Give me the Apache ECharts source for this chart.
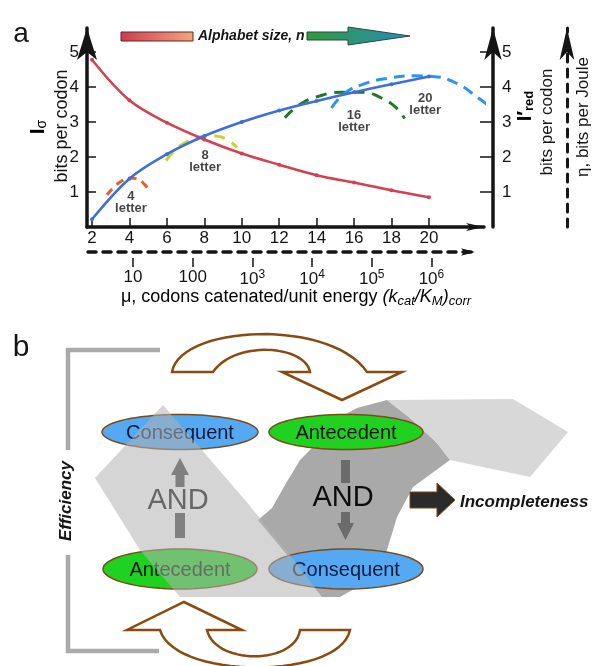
<!DOCTYPE html>
<html>
<head>
<meta charset="utf-8">
<script src="https://cdn.jsdelivr.net/npm/echarts@6/dist/echarts.min.js"></script>
<style>
  html, body { margin: 0; padding: 0; background: #fff; }
  #chart { width: 595px; height: 666px; }
</style>
</head>
<body>
<div id="chart"></div>
<script>
// ---- data ----
const nLetters = [2, 4, 6, 8, 10, 12, 14, 16, 18, 20];
const iSigmaBits = [4.78, 3.62, 2.98, 2.5, 2.1, 1.78, 1.48, 1.27, 1.05, 0.85];   // red, falling
const iRedBits = [0.22, 1.38, 2.08, 2.6, 3.0, 3.33, 3.6, 3.85, 4.08, 4.3];       // blue, rising

// dashed efficiency arcs for each alphabet size [n, bits]
const arc4 = [[2.8, 0.92], [3.2, 1.15], [3.6, 1.32], [4.0, 1.4], [4.4, 1.38], [4.8, 1.22], [5.1, 1.0]];
const arc8 = [[5.95, 1.9], [6.5, 2.22], [7.1, 2.45], [7.8, 2.58], [8.6, 2.6], [9.2, 2.5], [9.75, 2.27]];
const arc16 = [[12.3, 3.12], [13.1, 3.5], [14.2, 3.75], [15.3, 3.85], [16.5, 3.85], [17.4, 3.7], [18.2, 3.43], [18.7, 3.1]];
const arc20 = [[14.8, 3.4], [15.5, 3.82], [16.5, 4.08], [17.8, 4.25], [19.2, 4.32], [20.2, 4.3], [21.5, 4.1], [22.6, 3.7], [23.4, 3.38]];

const letterNames = ['4\nletter', '8\nletter', '16\nletter', '20\nletter'];
const letterSpots = [[4.08, 0.69], [8.04, 1.86], [16.0, 3.03], [19.8, 3.5]];

const xTicks = [2, 4, 6, 8, 10, 12, 14, 16, 18, 20];
const yTicks = [1, 2, 3, 4, 5];
const muExponents = [1, 2, 3, 4, 5, 6];

const FONT = 'Liberation Sans, Arial, sans-serif';
const INK = '#151515';
const UP = Math.PI / 2;

// small helpers for the diagram in panel b
function bez(p0, p1, p2, p3, n) {
    let pts = [];
    for (let i = 0; i <= n; i++) {
        let t = i / n, u = 1 - t;
        pts.push([
            u * u * u * p0[0] + 3 * u * u * t * p1[0] + 3 * u * t * t * p2[0] + t * t * t * p3[0],
            u * u * u * p0[1] + 3 * u * u * t * p1[1] + 3 * u * t * t * p2[1] + t * t * t * p3[1]
        ]);
    }
    return pts;
}
function ellipsePts(cx, cy, rx, ry) {
    let pts = [];
    for (let i = 0; i < 72; i++) {
        let a = i / 72 * Math.PI * 2;
        pts.push([cx + rx * Math.cos(a), cy + ry * Math.sin(a)]);
    }
    return pts;
}
function txt(x, y, text, font, extra, rotation) {
    return {
        type: 'text', x: x, y: y, z: 20, rotation: rotation || 0,
        style: Object.assign({ text: text, font: font, fill: INK, align: 'center', verticalAlign: 'middle' }, extra || {})
    };
}
function oval(cx, cy, rx, ry, fill, label, labelColor, z) {
    return [
        { type: 'polygon', z: z, shape: { points: ellipsePts(cx, cy, rx, ry) },
          style: { fill: fill, stroke: '#7b4a17', lineWidth: 1.5 } },
        { type: 'text', x: cx, y: cy + 1, z: z,
          style: { text: label, font: '20px ' + FONT, fill: labelColor, align: 'center', verticalAlign: 'middle' } }
    ];
}

const topArrow = [].concat(
    bez([172, 372], [180, 325], [330, 318], [367, 372], 30),
    [[402, 372], [342, 400], [282, 372], [310, 372]],
    bez([310, 372], [305, 345], [235, 340], [213, 372], 30)
);
const bottomArrow = [].concat(
    bez([350, 630], [340, 680], [175, 680], [160, 630], 30),
    [[127, 630], [184, 602], [242, 630], [207, 630]],
    bez([207, 630], [215, 665], [295, 665], [300, 630], 30)
);

const subRich = {
    t: { fontSize: 18, fontFamily: FONT, color: INK },
    it: { fontSize: 18, fontFamily: FONT, fontStyle: 'italic', color: INK },
    sub: { fontSize: 13, fontFamily: FONT, fontStyle: 'italic', color: INK, padding: [9, 0, 0, 0] }
};

let graphics = [
    // panel letters
    txt(21, 34, 'a', '28px ' + FONT),
    txt(21, 348, 'b', '30px ' + FONT),

    // alphabet size arrow
    { type: 'rect', z: 20, shape: { x: 121, y: 32, width: 72, height: 9 },
      style: { fill: { type: 'linear', x: 0, y: 0, x2: 1, y2: 0, colorStops: [{ offset: 0, color: '#d03a4f' }, { offset: 1, color: '#f3a67e' }] },
               stroke: '#5a2a2a', lineWidth: 1 } },
    txt(198, 36, 'Alphabet size, n', 'italic bold 14px ' + FONT, { align: 'left' }),
    { type: 'polygon', z: 20, shape: { points: [[307, 32], [348, 32], [348, 27], [410, 36], [348, 45], [348, 40], [307, 40]] },
      style: { fill: { type: 'linear', x: 0, y: 0, x2: 1, y2: 0, colorStops: [{ offset: 0, color: '#2f9b3a' }, { offset: 1, color: '#2a8ac0' }] },
               stroke: '#2b4a3a', lineWidth: 1 } },

    // axis titles
    { type: 'text', x: 38, y: 127, rotation: UP, z: 20,
      style: { text: '{i|I}{s|σ}', align: 'center', verticalAlign: 'middle',
               rich: { i: { fontSize: 21, fontWeight: 'bold', fontFamily: FONT, color: INK },
                       s: { fontSize: 14, fontFamily: FONT, color: INK, padding: [9, 0, 0, 0] } } } },
    txt(62, 126, 'bits per codon', '18px ' + FONT, {}, UP),
    { type: 'text', x: 525, y: 106, rotation: UP, z: 20,
      style: { text: '{i|I′}{s|red}', align: 'center', verticalAlign: 'middle',
               rich: { i: { fontSize: 20, fontWeight: 'bold', fontFamily: FONT, color: INK },
                       s: { fontSize: 13, fontWeight: 'bold', fontFamily: FONT, color: INK, padding: [9, 0, 0, 0] } } } },
    txt(547, 122, 'bits per codon', '17px ' + FONT, {}, UP),
    txt(583, 117, 'η, bits per Joule', '17px ' + FONT, {}, UP),
    { type: 'text', x: 296, y: 297, z: 20,
      style: { text: '{t|μ, codons catenated/unit energy }{it|(k}{sub|cat}{it|/K}{sub|M}{it|)}{sub|corr}',
               align: 'center', verticalAlign: 'middle', rich: subRich } },

    // ---- panel b ----
    { type: 'polyline', z: 2, shape: { points: [[160, 350], [68, 350], [68, 450]] }, style: { stroke: '#aaaaaa', lineWidth: 4.5 } },
    { type: 'polyline', z: 2, shape: { points: [[68, 555], [68, 651], [159, 651]] }, style: { stroke: '#aaaaaa', lineWidth: 4.5 } },
    txt(66, 501, 'Efficiency', 'italic bold 17px ' + FONT, {}, UP),
    { type: 'polygon', z: 3, shape: { points: topArrow }, style: { fill: '#fff', stroke: '#8a4b10', lineWidth: 2.5 } },
    { type: 'polygon', z: 3, shape: { points: bottomArrow }, style: { fill: '#fff', stroke: '#8a4b10', lineWidth: 2.5 } },

    // grey ribbons
    { type: 'polygon', z: 4, shape: { points: [[357, 408], [387, 400], [410, 418], [437, 443], [450, 460], [413, 487], [397, 517], [387, 550], [370, 580], [340, 597], [322, 597], [258, 520], [272, 508], [285, 485], [300, 460], [320, 440], [335, 420]] },
      style: { fill: '#a9a9a9' } },
    { type: 'polygon', z: 4, shape: { points: [[387, 400], [513, 399], [568, 432], [530, 477], [450, 460], [437, 443], [410, 418]] },
      style: { fill: '#d8d8d8' } }
];

graphics = graphics.concat(
    oval(346, 432, 77, 17.5, '#1fd21f', 'Antecedent', '#111', 5),
    oval(346, 569, 77, 20, '#55a8f2', 'Consequent', '#0b1a3c', 5),
    oval(180, 432, 78, 17.5, '#55a8f2', 'Consequent', '#0b1a3c', 5),
    oval(180, 569, 77, 20, '#1fd21f', 'Antecedent', '#111', 5)
);

graphics = graphics.concat([
    // translucent light ribbon over the left pair
    { type: 'polygon', z: 6, shape: { points: [[163, 405], [245, 500], [290, 555], [322, 597], [180, 597], [140, 550], [95, 478]] },
      style: { fill: 'rgba(178,178,178,0.55)' } },

    // left AND with grey arrow up
    { type: 'polygon', z: 7, shape: { points: [[180, 458], [189, 475], [184.5, 475], [184.5, 487], [175.5, 487], [175.5, 475], [171, 475]] },
      style: { fill: '#808080' } },
    { type: 'rect', z: 7, shape: { x: 175, y: 513, width: 10, height: 25 }, style: { fill: '#808080' } },
    txt(178, 501, 'AND', '29px ' + FONT, { fill: '#676767' }),

    // middle AND with dark arrow down
    { type: 'rect', z: 7, shape: { x: 341, y: 460, width: 9, height: 23 }, style: { fill: '#6b6b6b' } },
    txt(343, 498, 'AND', '29px ' + FONT, { fill: '#0c0c0c' }),
    { type: 'polygon', z: 7, shape: { points: [[341, 512], [350, 512], [350, 523], [354, 523], [345.5, 540], [337, 523], [341, 523]] },
      style: { fill: '#6b6b6b' } },

    // incompleteness arrow
    { type: 'polygon', z: 7, shape: { points: [[410, 492], [437, 492], [437, 483], [455, 500], [437, 517], [437, 508], [410, 508]] },
      style: { fill: '#2b2b2b', stroke: '#7b4a17', lineWidth: 1 } },
    txt(460, 502, 'Incompleteness', 'italic bold 17px ' + FONT, { align: 'left' })
]);

const xLabelStyle = { fontSize: 17, fontFamily: FONT, color: INK };

const option = {
    animation: false,
    backgroundColor: '#fff',
    grid: [
        { left: 87, right: 111, top: 28, bottom: 439 },
        { left: 88, right: 120, top: 240, height: 12 }
    ],
    xAxis: [
        {
            gridIndex: 0, type: 'value', min: 1.733, max: 22.94, position: 'bottom',
            axisLine: { lineStyle: { color: INK, width: 3.5 }, symbol: ['none', 'arrow'], symbolSize: [6, 18] },
            axisTick: { inside: true, length: 9, customValues: xTicks, lineStyle: { color: INK, width: 1.5 } },
            axisLabel: Object.assign({ customValues: xTicks, margin: 3 }, xLabelStyle),
            splitLine: { show: false }
        },
        {
            gridIndex: 1, type: 'value', min: 0.246, max: 6.73, position: 'bottom',
            axisLine: { lineStyle: { color: INK, width: 3.5, type: [8, 7] }, symbol: ['none', 'arrow'], symbolSize: [5.5, 14] },
            axisTick: { show: false },
            axisLabel: Object.assign({
                customValues: muExponents, margin: 17,
                formatter: e => e <= 2 ? String(Math.pow(10, e)) : '10{sup|' + e + '}',
                rich: { sup: { fontSize: 12, fontFamily: FONT, color: INK, padding: [0, 0, 9, 0] } }
            }, xLabelStyle),
            splitLine: { show: false }
        },
        {
            gridIndex: 1, type: 'value', min: 0.246, max: 6.73, position: 'bottom', offset: 6,
            axisLine: { show: false },
            axisTick: { length: 9, customValues: muExponents, lineStyle: { color: INK, width: 1.5 } },
            axisLabel: { show: false },
            splitLine: { show: false }
        }
    ],
    yAxis: [
        {
            gridIndex: 0, type: 'value', min: 0, max: 5.686, position: 'left',
            axisLine: { lineStyle: { color: INK, width: 3.5 }, symbol: ['none', 'arrow'], symbolSize: [15, 32] },
            axisTick: { inside: true, length: 9, customValues: yTicks, lineStyle: { color: INK, width: 1.5 } },
            axisLabel: Object.assign({ customValues: yTicks, margin: 8 }, xLabelStyle),
            splitLine: { show: false }
        },
        {
            gridIndex: 0, type: 'value', min: 0, max: 5.686, position: 'right', offset: 9,
            axisLine: { lineStyle: { color: INK, width: 3.5 }, symbol: ['none', 'arrow'], symbolSize: [13, 32] },
            axisTick: { inside: true, length: 13, customValues: yTicks, lineStyle: { color: INK, width: 1.5 } },
            axisLabel: Object.assign({ customValues: yTicks, margin: 9 }, xLabelStyle),
            splitLine: { show: false }
        },
        {
            gridIndex: 0, type: 'value', min: 0, max: 5.686, position: 'right', offset: 83,
            axisLine: { lineStyle: { color: INK, width: 3, type: [8, 7] }, symbol: ['none', 'arrow'], symbolSize: [11, 32] },
            axisTick: { show: false }, axisLabel: { show: false }, splitLine: { show: false }
        },
        { gridIndex: 1, type: 'value', show: false }
    ],
    series: [
        {
            name: 'arc4', type: 'line', data: arc4, smooth: 0.5, symbol: 'none',
            lineStyle: { color: '#f05a28', width: 3, type: [8, 6] }
        },
        {
            name: 'arc8', type: 'line', data: arc8, smooth: 0.5, symbol: 'none',
            lineStyle: { color: '#c8d42c', width: 3, type: [11, 8] }
        },
        {
            name: 'arc16', type: 'line', data: arc16, smooth: 0.5, symbol: 'none',
            lineStyle: { color: '#1d7a1f', width: 3, type: [11, 8] }
        },
        {
            name: 'arc20', type: 'line', data: arc20, smooth: 0.5, symbol: 'none', clip: false,
            lineStyle: { color: '#2b94f0', width: 3, type: [11, 7] }
        },
        {
            name: 'Isigma', type: 'line', data: nLetters.map((n, i) => [n, iSigmaBits[i]]),
            smooth: 0.35, symbol: 'circle', symbolSize: 4, showAllSymbol: true,
            itemStyle: { color: '#d4404f' }, lineStyle: { color: '#d4404f', width: 2.5 }
        },
        {
            name: 'Ired', type: 'line', data: nLetters.map((n, i) => [n, iRedBits[i]]),
            smooth: 0.35, symbol: 'circle', symbolSize: 4, showAllSymbol: true,
            itemStyle: { color: '#3c6fdc' }, lineStyle: { color: '#3c6fdc', width: 2.5 }
        },
        {
            name: 'letters', type: 'scatter', symbolSize: 1, itemStyle: { color: 'transparent' },
            data: letterSpots.map((p, i) => ({ value: p, name: letterNames[i] })),
            label: { show: true, position: 'inside', formatter: '{b}', fontSize: 13, fontWeight: 'bold',
                     fontFamily: FONT, color: INK, lineHeight: 12 }
        }
    ],
    graphic: graphics
};

const chart = echarts.init(document.getElementById('chart'), null, { renderer: 'canvas' });
chart.setOption(option);
</script>
</body>
</html>
